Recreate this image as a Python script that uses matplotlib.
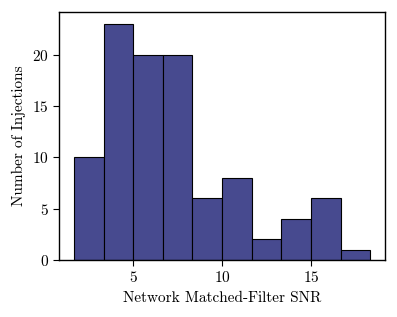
import matplotlib
matplotlib.use("Agg")
import matplotlib.pyplot as plt
import numpy as np

plt.rcParams['font.family'] = 'serif'
plt.rcParams['font.serif'] = ['cmr10']
plt.rcParams['mathtext.fontset'] = 'cm'
plt.rcParams['axes.formatter.use_mathtext'] = True

bin_start = 1.68
bin_end = 18.30
counts = [10, 23, 20, 20, 6, 8, 2, 4, 6, 1]
edges = np.linspace(bin_start, bin_end, len(counts) + 1)
centers = (edges[:-1] + edges[1:]) / 2

fig = plt.figure(figsize=(3.97, 3.17), dpi=100)
ax = fig.add_axes([0.149, 0.180, 0.821, 0.782])
ax.hist(centers, bins=edges, weights=counts, color='#474A8F', edgecolor='black', linewidth=0.8)
ax.set_xlabel('Network Matched-Filter SNR', fontsize=11)
ax.set_ylabel('Number of Injections', fontsize=11)
ax.set_xticks([5, 10, 15])
ax.set_yticks([0, 5, 10, 15, 20])
ax.tick_params(labelsize=11, direction='out', length=4)
for s in ax.spines.values():
    s.set_linewidth(1.0)
fig.savefig('out.png', dpi=100)
